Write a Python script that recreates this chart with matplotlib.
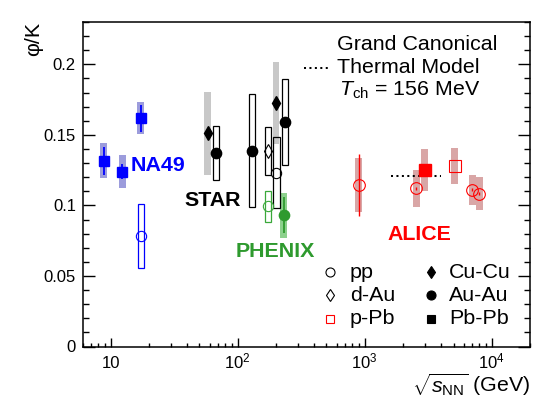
import matplotlib

matplotlib.use("Agg")
import matplotlib.pyplot as plt
from matplotlib.patches import Rectangle
from matplotlib.ticker import FixedLocator, FixedFormatter, LogLocator, NullFormatter

plt.rcParams["font.family"] = ["Liberation Sans", "DejaVu Sans"]
plt.rcParams["mathtext.fontset"] = "custom"
plt.rcParams["mathtext.rm"] = "Liberation Sans"
plt.rcParams["mathtext.it"] = "Liberation Sans:italic"
plt.rcParams["mathtext.bf"] = "Liberation Sans:bold"

# --- NA49 ---
na49_pbpb_x = [8.8, 12.3, 17.3]
na49_pbpb_y = [0.1316, 0.1240, 0.1617]
na49_pbpb_stat = [0.0097, 0.0053, 0.0098]
na49_pbpb_sys = [0.0124, 0.0116, 0.0113]
na49_pp_x = [17.3]
na49_pp_y = [0.0783]
na49_pp_sys = [0.0224]

# --- STAR ---
star_cucu_x = [58, 200]
star_cucu_y = [0.1511, 0.1724]
star_cucu_sys = [0.0292, 0.0291]
star_auau_x = [67, 130, 234]
star_auau_y = [0.1373, 0.1389, 0.1594]
star_auau_sys = [0.0191, 0.0399, 0.0305]
star_dau_x = [173]
star_dau_y = [0.1387]
star_dau_sys = [0.0172]
star_pp_x = [202]
star_pp_y = [0.1233]
star_pp_sys = [0.0249]

# --- PHENIX ---
phenix_pp_x = [173]
phenix_pp_y = [0.0993]
phenix_pp_sys = [0.0109]
phenix_auau_x = [230]
phenix_auau_y = [0.0931]
phenix_auau_stat = [0.013]
phenix_auau_sys = [0.016]

# --- ALICE ---
alice_pp_x = [900, 2550, 7000, 8000]
alice_pp_y = [0.1145, 0.1122, 0.1111, 0.1083]
alice_pp_stat = [0.0221, 0.001, 0.001, 0.001]
alice_pp_sys = [0.019, 0.0132, 0.0105, 0.0117]
alice_pbpb_x = [2960]
alice_pbpb_y = [0.1252]
alice_pbpb_stat = [0.004]
alice_pbpb_sys = [0.0148]
alice_ppb_x = [5100]
alice_ppb_y = [0.128]
alice_ppb_sys = [0.0128]
thermal_x = [1600, 4000]
thermal_y = [0.1207, 0.1207]

BLUE = "#0000ff"
BLUE_BAND = "#9c9cdc"
GRAY_BAND = "#c8c8c8"
GREEN = "#2e9a2e"
GREEN_BOX = "#3aa83a"
GREEN_BAND = "#8cd08c"
RED = "#ff0000"
RED_BAND = "#d9a6a6"

W, H = 537, 409
AX_L, AX_R, AX_T, AX_B = 82.5, 530, 22, 346.5


def fx(px):
    return px / W


def fy(py):
    return 1 - py / H


def sys_boxes(ax, xs, ys, errs, color, filled, hw=0.026, z=1):
    # Systematik-Boxen mit fester Breite in log-Dekaden
    for x, y, e in zip(xs, ys, errs):
        lo, hi = x * 10 ** -hw, x * 10 ** hw
        if filled:
            r = Rectangle((lo, y - e), hi - lo, 2 * e, facecolor=color,
                          edgecolor="none", zorder=z)
        else:
            r = Rectangle((lo, y - e), hi - lo, 2 * e, facecolor="none",
                          edgecolor=color, lw=0.9, zorder=z + 1)
        ax.add_patch(r)


fig = plt.figure(figsize=(W / 100, H / 100), dpi=100)
ax = fig.add_axes([fx(AX_L), fy(AX_B), (AX_R - AX_L) / W, (AX_B - AX_T) / H])
ax.set_xscale("log")
ax.set_xlim(6, 2e4)
ax.set_ylim(0, 0.23)

# Baender / Boxen
sys_boxes(ax, na49_pbpb_x, na49_pbpb_y, na49_pbpb_sys, BLUE_BAND, True, hw=0.027)
sys_boxes(ax, na49_pp_x, na49_pp_y, na49_pp_sys, BLUE, False, hw=0.024)
sys_boxes(ax, star_cucu_x, star_cucu_y, star_cucu_sys, GRAY_BAND, True, hw=0.027)
sys_boxes(ax, star_auau_x, star_auau_y, star_auau_sys, "black", False, hw=0.024)
sys_boxes(ax, star_dau_x, star_dau_y, star_dau_sys, "black", False, hw=0.024)
sys_boxes(ax, star_pp_x, star_pp_y, star_pp_sys, "black", False, hw=0.024)
sys_boxes(ax, phenix_pp_x, phenix_pp_y, phenix_pp_sys, GREEN_BOX, False, hw=0.024)
sys_boxes(ax, phenix_auau_x, phenix_auau_y, phenix_auau_sys, GREEN_BAND, True, hw=0.027)
sys_boxes(ax, alice_pp_x, alice_pp_y, alice_pp_sys, RED_BAND, True, hw=0.027)
sys_boxes(ax, alice_pbpb_x, alice_pbpb_y, alice_pbpb_sys, RED_BAND, True, hw=0.027)
sys_boxes(ax, alice_ppb_x, alice_ppb_y, alice_ppb_sys, RED_BAND, True, hw=0.027)

# Statistische Fehler
ax.errorbar(na49_pbpb_x, na49_pbpb_y, yerr=na49_pbpb_stat, fmt="none",
            ecolor=BLUE, elinewidth=1.3, capsize=0, zorder=3)
ax.errorbar(phenix_auau_x, phenix_auau_y, yerr=phenix_auau_stat, fmt="none",
            ecolor=GREEN, elinewidth=1.3, capsize=0, zorder=3)
ax.errorbar(alice_pp_x, alice_pp_y, yerr=alice_pp_stat, fmt="none",
            ecolor=RED, elinewidth=1.0, capsize=0, zorder=3)
ax.errorbar(alice_pbpb_x, alice_pbpb_y, yerr=alice_pbpb_stat, fmt="none",
            ecolor=RED, elinewidth=1.0, capsize=0, zorder=3)

# Thermisches Modell
ax.plot(thermal_x, thermal_y, color="black", lw=1.45, ls=(0, (1, 1.7)), zorder=4)

# Marker
mk = dict(ls="none", zorder=5)
ax.plot(na49_pbpb_x, na49_pbpb_y, marker="s", ms=7.4, color=BLUE, mec=BLUE, **mk)
ax.plot(na49_pp_x, na49_pp_y, marker="o", ms=7.4, mfc="none", mec=BLUE, mew=0.8, **mk)
ax.plot(star_cucu_x, star_cucu_y, marker="d", ms=7.0, color="black", **mk)
ax.plot(star_auau_x, star_auau_y, marker="o", ms=7.4, color="black", **mk)
ax.plot(star_dau_x, star_dau_y, marker="d", ms=7.0, mfc="none", mec="black", mew=0.8, **mk)
ax.plot(star_pp_x, star_pp_y, marker="o", ms=7.4, mfc="none", mec="black", mew=0.8, **mk)
ax.plot(phenix_pp_x, phenix_pp_y, marker="o", ms=7.4, mfc="none", mec=GREEN_BOX, mew=0.8, **mk)
ax.plot(phenix_auau_x, phenix_auau_y, marker="o", ms=7.4, color=GREEN, **mk)
ax.plot(alice_pp_x, alice_pp_y, marker="o", ms=8.4, mfc="none", mec=RED, mew=0.8, **mk)
ax.plot(alice_pbpb_x, alice_pbpb_y, marker="s", ms=8.0, color=RED, **mk)
ax.plot(alice_ppb_x, alice_ppb_y, marker="s", ms=8.0, mfc="none", mec=RED, mew=0.8, **mk)

# Achsen
ax.xaxis.set_major_locator(FixedLocator([10, 100, 1000, 10000]))
ax.xaxis.set_major_formatter(FixedFormatter(["10", "$10^{2}$", "$10^{3}$", "$10^{4}$"]))
ax.xaxis.set_minor_locator(LogLocator(base=10, subs=range(2, 10), numticks=20))
ax.xaxis.set_minor_formatter(NullFormatter())
ax.yaxis.set_major_locator(FixedLocator([0, 0.05, 0.1, 0.15, 0.2]))
ax.yaxis.set_major_formatter(FixedFormatter(["0", "0.05", "0.1", "0.15", "0.2"]))
ax.yaxis.set_minor_locator(FixedLocator([i * 0.01 for i in range(24)]))

ax.tick_params(axis="x", which="both", direction="in", top=False, bottom=True, width=1)
ax.tick_params(axis="x", which="major", length=6.8, pad=15.7, labelsize=12)
ax.tick_params(axis="x", which="minor", length=3.0)
ax.tick_params(axis="y", which="both", direction="in", left=True, right=True, width=1)
ax.tick_params(axis="y", which="major", length=8.8, pad=4.7, labelsize=12)
ax.tick_params(axis="y", which="minor", length=4.2)
for lab in ax.get_xticklabels():
    lab.set_va("baseline")
for sp in ax.spines.values():
    sp.set_linewidth(1.1)

fig.text(fx(530), fy(391.7), r"$\sqrt{s_{\mathrm{NN}}}$ (GeV)", ha="right",
         va="baseline", fontsize=15.4)
fig.text(fx(34), fy(22), "φ/K", rotation=90, ha="center", va="top", fontsize=15.4)

# Experiment-Beschriftungen
lab = dict(fontsize=15.4, weight="bold", va="baseline")
fig.text(fx(131), fy(170.7), "NA49", color=BLUE, **lab)
fig.text(fx(184), fy(206), "STAR", color="black", **lab)
fig.text(fx(235.7), fy(256.7), "PHENIX", color=GREEN, **lab)
fig.text(fx(387.7), fy(240), "ALICE", color=RED, **lab)

# Thermal-Modell-Legende
fig.text(fx(337.3), fy(50), "Grand Canonical", fontsize=15.4, va="baseline")
fig.text(fx(337.3), fy(72.7), "Thermal Model", fontsize=15.4, va="baseline")
fig.text(fx(339), fy(96), r"$T_{\mathrm{ch}}$ = 156 MeV", fontsize=15.4, va="baseline")
ax.plot([(304 - AX_L) / (AX_R - AX_L), (329 - AX_L) / (AX_R - AX_L)],
        [(AX_B - 67.7) / (AX_B - AX_T)] * 2, transform=ax.transAxes, clip_on=False,
        color="black", lw=1.45, ls=(0, (1, 1.7)))

# System-Legende
leg_labels = ["pp", "d-Au", "p-Pb", "Cu-Cu", "Au-Au", "Pb-Pb"]
leg_markers = ["o", "d", "s", "d", "o", "s"]
leg_fill = ["none", "none", "none", "black", "black", "black"]
leg_edge = ["black", "black", RED, "black", "black", "black"]
leg_ms = [6.5, 6.5, 6.0, 6.5, 6.5, 6.0]
leg_col_px = [(330, 350), (430.7, 449)]
leg_row_base = [277.7, 300.7, 324]
for i, txt in enumerate(leg_labels):
    mx, tx = leg_col_px[i // 3]
    base = leg_row_base[i % 3]
    ax.plot([(mx - AX_L) / (AX_R - AX_L)], [(AX_B - (base - 5.5)) / (AX_B - AX_T)],
            transform=ax.transAxes, clip_on=False, marker=leg_markers[i],
            ms=leg_ms[i], mfc=leg_fill[i], mec=leg_edge[i], mew=0.8, ls="none")
    fig.text(fx(tx), fy(base), txt, fontsize=15.4, va="baseline")

fig.savefig("out.png", dpi=100)
